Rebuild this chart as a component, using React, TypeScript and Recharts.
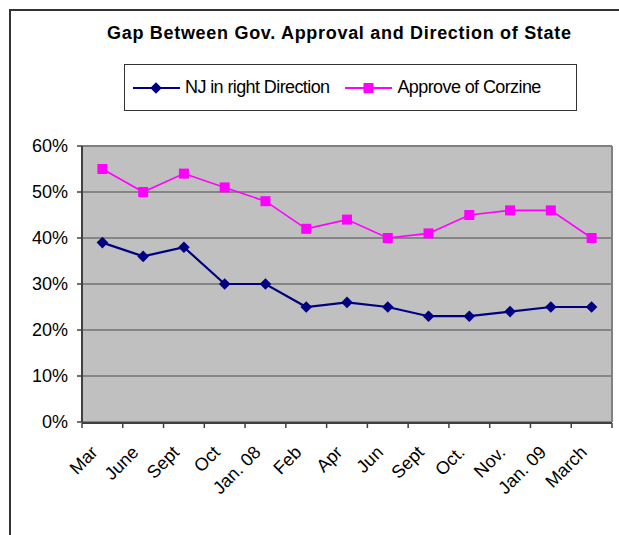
import React from 'react';
import { LineChart, Line, XAxis, YAxis, CartesianGrid, Legend, ReferenceLine } from 'recharts';

const months = ['Mar', 'June', 'Sept', 'Oct', 'Jan. 08', 'Feb', 'Apr', 'Jun', 'Sept', 'Oct.', 'Nov.', 'Jan. 09', 'March'];
const rightDirection = [39, 36, 38, 30, 30, 25, 26, 25, 23, 23, 24, 25, 25];
const approveCorzine = [55, 50, 54, 51, 48, 42, 44, 40, 41, 45, 46, 46, 40];
const yTicks = [0, 10, 20, 30, 40, 50, 60];
const seriesOrder = ['nj', 'corzine'];

const NAVY = '#000080';
const PINK = '#FF00FF';
const FONT = '"Liberation Sans", Arial, sans-serif';

const data = months.map((m, i) => ({
  month: m,
  pos: i + 0.5,
  nj: rightDirection[i],
  corzine: approveCorzine[i],
}));

// category boundaries, used only for the tick marks between labels
const edges = months.map((_, i) => i).concat(months.length);

const diamondPath = (cx: number, cy: number, r: number) =>
  `M${cx},${cy - r}L${cx + r},${cy}L${cx},${cy + r}L${cx - r},${cy}Z`;

const Diamond = (props: any) => {
  const { cx, cy, index } = props;
  if (cx == null || cy == null) return <g key={`d${index}`} />;
  return <path key={`d${index}`} d={diamondPath(cx, cy, 5.8)} fill={NAVY} />;
};

const Square = (props: any) => {
  const { cx, cy, index } = props;
  if (cx == null || cy == null) return <g key={`s${index}`} />;
  return <rect key={`s${index}`} x={cx - 5} y={cy - 5} width={10} height={10} fill={PINK} />;
};

const NoTick = () => <g />;

const MonthTick = ({ x, y, payload }: any) => (
  <text
    transform={`translate(${x - 8},${y + 27}) rotate(-45)`}
    textAnchor="end"
    dy="0.35em"
    fontSize={18}
    fontFamily={FONT}
    fill="#000"
  >
    {payload.value}
  </text>
);

const LegendBox = ({ payload }: any) => {
  const items = [...(payload || [])].sort(
    (a: any, b: any) => seriesOrder.indexOf(a.dataKey) - seriesOrder.indexOf(b.dataKey)
  );
  return (
    <div
      style={{
        boxSizing: 'border-box',
        width: '100%',
        height: '100%',
        border: '1.5px solid #333',
        background: '#fff',
        display: 'flex',
        alignItems: 'center',
        paddingLeft: 8,
        fontFamily: FONT,
        fontSize: 18,
        letterSpacing: -0.6,
        color: '#000',
      }}
    >
      {items.map((p: any) => (
        <div key={p.value} style={{ display: 'flex', alignItems: 'center', marginRight: 16 }}>
          <svg width={47} height={14} style={{ marginRight: 5 }}>
            <line x1={0} y1={7} x2={47} y2={7} stroke={p.color} strokeWidth={2} />
            {p.dataKey === 'nj' ? (
              <path d={diamondPath(23, 7, 5.8)} fill={p.color} />
            ) : (
              <rect x={18.5} y={2} width={10} height={10} fill={p.color} />
            )}
          </svg>
          <span>{p.value}</span>
        </div>
      ))}
    </div>
  );
};

export default function App() {
  return (
    <div
      style={{
        position: 'fixed',
        left: 0,
        top: 0,
        width: 619,
        height: 535,
        overflow: 'hidden',
        background: '#fff',
        fontFamily: FONT,
      }}
    >
      <div
        style={{
          position: 'absolute',
          left: 9,
          top: 9,
          width: 640,
          height: 560,
          borderLeft: '2px solid #333',
          borderTop: '2px solid #333',
        }}
      />
      <div
        style={{
          position: 'absolute',
          left: 107,
          top: 23,
          fontWeight: 'bold',
          fontSize: 18,
          letterSpacing: 0.7,
          whiteSpace: 'nowrap',
          color: '#000',
        }}
      >
        Gap Between Gov. Approval and Direction of State
      </div>
      <LineChart
        width={619}
        height={535}
        data={data}
        margin={{ top: 146, right: 7, left: 10, bottom: 111 }}
        style={{ position: 'absolute', left: 0, top: 0 }}
      >
        <CartesianGrid vertical={false} fill="#C0C0C0" stroke="#4a4a4a" strokeWidth={1} />
        <XAxis
          xAxisId="edge"
          dataKey="pos"
          type="number"
          domain={[0, months.length]}
          allowDataOverflow
          ticks={edges}
          interval={0}
          tick={<NoTick />}
          height={1}
          tickSize={5}
          axisLine={{ stroke: '#404040', strokeWidth: 2 }}
          tickLine={{ stroke: '#404040', strokeWidth: 1.5 }}
        />
        <XAxis
          xAxisId="cat"
          dataKey="month"
          type="category"
          allowDuplicatedCategory
          interval={0}
          padding={{ left: 20.4, right: 20.4 }}
          height={1}
          tickSize={0}
          tickMargin={0}
          axisLine={false}
          tickLine={false}
          tick={<MonthTick />}
        />
        <YAxis
          width={72}
          domain={[0, 60]}
          ticks={yTicks}
          interval={0}
          tickFormatter={(v: number) => `${v}%`}
          tickSize={5}
          tickMargin={9}
          tick={{ fontSize: 18, fill: '#000', fontFamily: FONT }}
          axisLine={{ stroke: '#404040', strokeWidth: 2 }}
          tickLine={{ stroke: '#404040', strokeWidth: 1.5 }}
        />
        <ReferenceLine y={60} stroke="#808080" strokeWidth={2} />
        <ReferenceLine xAxisId="edge" x={months.length} stroke="#808080" strokeWidth={2} />
        <Legend
          verticalAlign="middle"
          layout="horizontal"
          content={<LegendBox />}
          wrapperStyle={{ left: 124, top: 64, width: 453, height: 47 }}
        />
        <Line
          xAxisId="cat"
          dataKey="nj"
          name="NJ in right Direction"
          stroke={NAVY}
          strokeWidth={2.2}
          dot={Diamond}
          activeDot={false}
          isAnimationActive={false}
        />
        <Line
          xAxisId="cat"
          dataKey="corzine"
          name="Approve of Corzine"
          stroke={PINK}
          strokeWidth={1.6}
          dot={Square}
          activeDot={false}
          isAnimationActive={false}
        />
      </LineChart>
    </div>
  );
}
